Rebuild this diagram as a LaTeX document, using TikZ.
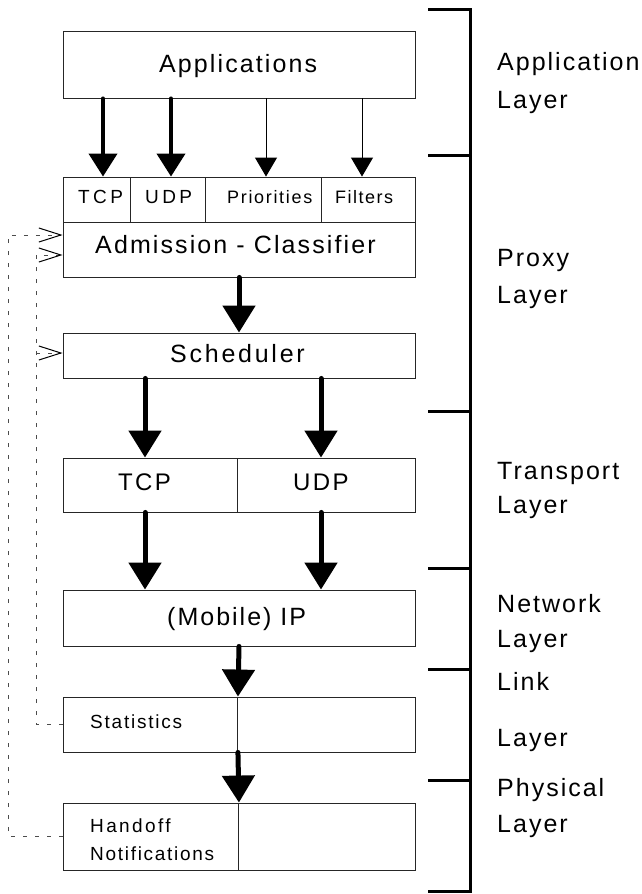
\documentclass[tikz,border=0pt]{standalone}
\usepackage{fontspec}
\usetikzlibrary{arrows.meta}
\newfontfamily\arial{Liberation Sans}[Ligatures=NoCommon]
% size (pt), letter spacing (% of size), text
\newcommand\spaced[3]{{\fontsize{#1}{#1}\selectfont\addfontfeature{LetterSpace=#2}#3}}

\tikzset{
  box/.style={draw=black!85, line width=0.9pt, rectangle, inner sep=0pt},
  txt/.style={anchor=base west, inner sep=0pt, font=\arial},
  bigarrow/.style={line width=5pt, line cap=round, -{Triangle[width=32pt,length=27pt]}},
  toparrow/.style={line width=4pt, line cap=round, -{Triangle[width=28pt,length=23pt]}},
  thinarrow/.style={line width=1pt, -{Triangle[width=22pt,length=19pt]}},
  feedback/.style={draw=black!70, line width=1pt, dash pattern=on 4pt off 8pt,
    -{Straight Barb[length=22pt,width=14pt,line width=1pt,color=black]}},
  brace/.style={line width=3pt}
}

\begin{document}
\begin{tikzpicture}[x=1pt,y=-1pt]
  \fill[white] (0,0) rectangle (642,894);
  \useasboundingbox (0,0) rectangle (642,894);

  % ---- boxes of the protocol stack ----
  \node[box, minimum width=352pt, minimum height=67pt] (apps)  at (239,64.5)  {};
  \node[box, minimum width=67pt,  minimum height=45pt] (tcpA)  at (96.5,199.5) {};
  \node[box, minimum width=75pt,  minimum height=45pt] (udpA)  at (167.5,199.5) {};
  \node[box, minimum width=116pt, minimum height=45pt] (prio)  at (263,199.5) {};
  \node[box, minimum width=94pt,  minimum height=45pt] (filt)  at (368,199.5) {};
  \node[box, minimum width=352pt, minimum height=55pt] (adm)   at (239,249.5) {};
  \node[box, minimum width=352pt, minimum height=45pt] (sched) at (239,355.5) {};
  \node[box, minimum width=174.5pt, minimum height=54pt] (tcpB) at (150.25,485) {};
  \node[box, minimum width=177.5pt, minimum height=54pt] (udpB) at (326.25,485) {};
  \node[box, minimum width=352pt, minimum height=56pt] (ip)    at (239,618) {};
  \node[box, minimum width=174.5pt, minimum height=55pt] (statL) at (150.25,724.5) {};
  \node[box, minimum width=177.5pt, minimum height=55pt] (statR) at (326.25,724.5) {};
  \node[box, minimum width=175.5pt, minimum height=67pt] (handL) at (150.75,836.5) {};
  \node[box, minimum width=176.5pt, minimum height=67pt] (handR) at (326.75,836.5) {};

  % ---- box texts ----
  \node[txt] (tApps)  at (159,72)  {\spaced{25}{8.4}{Applications}};
  \node[txt] (tTcpA)  at (78,203)  {\spaced{19}{18}{TCP}};
  \node[txt] (tUdpA)  at (145,203) {\spaced{19}{18}{UDP}};
  \node[txt] (tPrio)  at (227,203) {\spaced{18}{9.3}{Priorities}};
  \node[txt] (tFilt)  at (335,203) {\spaced{18}{8.3}{Filters}};
  \node[txt] (tAdm)   at (95,253)  {\spaced{25}{8.5}{Adm\kern2pt ission - Classifier}};
  \node[txt] (tSched) at (170,362) {\spaced{25}{11}{Scheduler}};
  \node[txt] (tTcpB)  at (118,490) {\spaced{24}{10}{TCP}};
  \node[txt] (tUdpB)  at (293,490) {\spaced{24}{10}{UDP}};
  \node[txt] (tIp)    at (167,625) {\spaced{25}{8}{(Mobile) IP}};
  \node[txt] (tStat)  at (90,728)  {\spaced{19}{9.3}{Statistics}};
  \node[txt] (tHand)  at (90,832)  {\spaced{19}{12.5}{Handoff}};
  \node[txt] (tNotif) at (90,860)  {\spaced{19}{9}{Notifications}};

  % ---- arrow columns ----
  \coordinate (c1) at (103,0);
  \coordinate (c2) at (171,0);
  \coordinate (c3) at (266,0);
  \coordinate (c4) at (362,0);
  \coordinate (cm) at (239,0);
  \coordinate (cl) at (145,0);
  \coordinate (cr) at (321,0);

  \draw[toparrow]  (apps.south -| c1) -- (tcpA.north -| c1);
  \draw[toparrow]  (apps.south -| c2) -- (udpA.north -| c2);
  \draw[thinarrow] (apps.south -| c3) -- (prio.north -| c3);
  \draw[thinarrow] (apps.south -| c4) -- (filt.north -| c4);
  \draw[bigarrow]  (adm.south -| cm) -- (sched.north -| cm);
  \draw[bigarrow]  (sched.south -| cl) -- (tcpB.north -| cl);
  \draw[bigarrow]  (sched.south -| cr) -- (udpB.north -| cr);
  \draw[bigarrow]  (tcpB.south -| cl) -- (ip.north -| cl);
  \draw[bigarrow]  (udpB.south -| cr) -- (ip.north -| cr);
  \draw[bigarrow]  (ip.south -| cm) -- (statL.north east);
  \draw[bigarrow]  (statL.south east) -- (handL.north east);

  % ---- dashed feedback paths ----
  \coordinate (outer) at (8,0);
  \coordinate (inner) at (36,0);
  \draw[feedback] (handL.west) -- (handL.west -| outer) |- ([yshift=14.5pt]adm.west);
  \draw[feedback] (statL.west) -- (statL.west -| inner) |- ([yshift=-5.5pt]adm.west);
  \draw[feedback] ([yshift=2.5pt]sched.west -| inner) -- ([yshift=2.5pt]sched.west);

  % ---- layer bracket ----
  \draw[brace] (428,9) -- (470,9) -- (470,891) -- (428,891);
  \foreach \yy in {155,411,568,669,780} \draw[brace] (428,\yy) -- (470,\yy);

  % ---- layer names ----
  \node[txt] (lApp1) at (497,70)  {\spaced{25}{8}{Application}};
  \node[txt] (lApp2) at (497,108) {\spaced{25}{8}{Layer}};
  \node[txt] (lPrx1) at (497,266) {\spaced{25}{8}{Proxy}};
  \node[txt] (lPrx2) at (497,303) {\spaced{25}{8}{Layer}};
  \node[txt] (lTr1)  at (497,479) {\spaced{25}{8}{Transport}};
  \node[txt] (lTr2)  at (497,513) {\spaced{25}{8}{Layer}};
  \node[txt] (lNet1) at (497,612) {\spaced{25}{8}{Network}};
  \node[txt] (lNet2) at (497,647) {\spaced{25}{8}{Layer}};
  \node[txt] (lLnk1) at (497,690) {\spaced{25}{8}{Link}};
  \node[txt] (lLnk2) at (497,746) {\spaced{25}{8}{Layer}};
  \node[txt] (lPhy1) at (497,796) {\spaced{25}{8}{Physical}};
  \node[txt] (lPhy2) at (497,832) {\spaced{25}{8}{Layer}};
\end{tikzpicture}
\end{document}
